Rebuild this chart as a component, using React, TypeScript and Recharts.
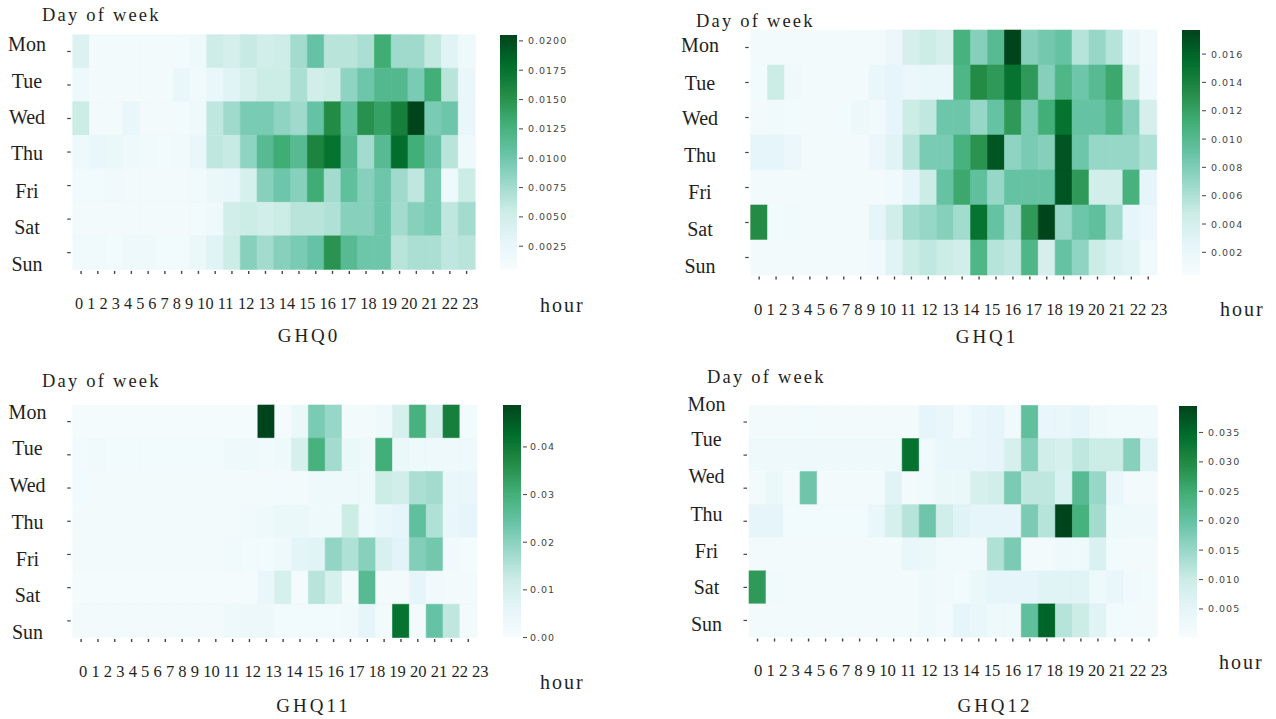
import {Bar, BarChart, Cell, XAxis, YAxis} from "recharts";

const days = ["Mon", "Tue", "Wed", "Thu", "Fri", "Sat", "Sun"];
const hours = ["0", "1", "2", "3", "4", "5", "6", "7", "8", "9", "10", "11",
    "12", "13", "14", "15", "16", "17", "18", "19", "20", "21", "22", "23"];

// rows Mon..Sun, columns hour 0..23
const ghq0 = [
    [0.0039, 0.0011, 0.0011, 0.0011, 0.0011, 0.0011, 0.0013, 0.0017, 0.0053, 0.0047, 0.0057, 0.0049, 0.0053, 0.0075, 0.0105, 0.0065, 0.0065, 0.0071, 0.0131, 0.0077, 0.0077, 0.0059, 0.0035, 0.0017],
    [0.0017, 0.0011, 0.0011, 0.0011, 0.0011, 0.0011, 0.0025, 0.0015, 0.0025, 0.0035, 0.0045, 0.0055, 0.0055, 0.0071, 0.0049, 0.0055, 0.0085, 0.0101, 0.0117, 0.0117, 0.0095, 0.0129, 0.0065, 0.0025],
    [0.0055, 0.0011, 0.0011, 0.0025, 0.0011, 0.0011, 0.0013, 0.0017, 0.0061, 0.0077, 0.0095, 0.0095, 0.0085, 0.0077, 0.0105, 0.0155, 0.0109, 0.0151, 0.0139, 0.0165, 0.0205, 0.0095, 0.0101, 0.0025],
    [0.0017, 0.0025, 0.0021, 0.0017, 0.0015, 0.0013, 0.0015, 0.0025, 0.0061, 0.0057, 0.0085, 0.0115, 0.0131, 0.0115, 0.0161, 0.0175, 0.0115, 0.0075, 0.0115, 0.0179, 0.0129, 0.0105, 0.0065, 0.0017],
    [0.0013, 0.0013, 0.0015, 0.0011, 0.0011, 0.0011, 0.0011, 0.0015, 0.0021, 0.0025, 0.0045, 0.0089, 0.0101, 0.0089, 0.0131, 0.0075, 0.0109, 0.0089, 0.0101, 0.0077, 0.0061, 0.0095, 0.0017, 0.0055],
    [0.0011, 0.0011, 0.0011, 0.0011, 0.0011, 0.0011, 0.0011, 0.0013, 0.0017, 0.0049, 0.0055, 0.0049, 0.0055, 0.0065, 0.0065, 0.0069, 0.0089, 0.0089, 0.0101, 0.0075, 0.0089, 0.0095, 0.0061, 0.0075],
    [0.0015, 0.0015, 0.0013, 0.0017, 0.0017, 0.0013, 0.0013, 0.0021, 0.0035, 0.0055, 0.0089, 0.0075, 0.0089, 0.0095, 0.0105, 0.0149, 0.0115, 0.0101, 0.0101, 0.0065, 0.0071, 0.0071, 0.0061, 0.0065],
];

const ghq1 = [
    [0.0009, 0.0009, 0.0009, 0.0009, 0.0009, 0.0009, 0.0009, 0.0009, 0.0018, 0.0039, 0.0047, 0.0039, 0.0108, 0.0077, 0.0099, 0.0177, 0.0077, 0.0085, 0.0091, 0.0056, 0.0070, 0.0056, 0.0021, 0.0013],
    [0.0011, 0.0047, 0.0014, 0.0009, 0.0009, 0.0009, 0.0009, 0.0021, 0.0025, 0.0018, 0.0021, 0.0021, 0.0104, 0.0134, 0.0125, 0.0151, 0.0125, 0.0077, 0.0104, 0.0087, 0.0099, 0.0116, 0.0047, 0.0014],
    [0.0009, 0.0013, 0.0011, 0.0009, 0.0009, 0.0011, 0.0016, 0.0013, 0.0025, 0.0047, 0.0052, 0.0087, 0.0087, 0.0070, 0.0091, 0.0125, 0.0082, 0.0111, 0.0151, 0.0091, 0.0091, 0.0104, 0.0077, 0.0039],
    [0.0025, 0.0025, 0.0018, 0.0009, 0.0009, 0.0009, 0.0009, 0.0018, 0.0030, 0.0056, 0.0082, 0.0082, 0.0108, 0.0129, 0.0168, 0.0073, 0.0082, 0.0077, 0.0168, 0.0087, 0.0070, 0.0070, 0.0070, 0.0059],
    [0.0009, 0.0009, 0.0009, 0.0009, 0.0009, 0.0009, 0.0009, 0.0009, 0.0013, 0.0025, 0.0047, 0.0091, 0.0116, 0.0094, 0.0070, 0.0091, 0.0091, 0.0091, 0.0168, 0.0125, 0.0042, 0.0042, 0.0108, 0.0025],
    [0.0134, 0.0011, 0.0013, 0.0009, 0.0009, 0.0009, 0.0009, 0.0025, 0.0042, 0.0065, 0.0070, 0.0077, 0.0065, 0.0151, 0.0091, 0.0065, 0.0125, 0.0177, 0.0070, 0.0087, 0.0094, 0.0065, 0.0025, 0.0018],
    [0.0009, 0.0009, 0.0009, 0.0009, 0.0009, 0.0009, 0.0009, 0.0013, 0.0030, 0.0047, 0.0052, 0.0047, 0.0042, 0.0104, 0.0056, 0.0052, 0.0104, 0.0039, 0.0091, 0.0073, 0.0047, 0.0035, 0.0030, 0.0013],
];

const ghq11 = [
    [0.0010, 0.0010, 0.0010, 0.0010, 0.0010, 0.0010, 0.0010, 0.0010, 0.0012, 0.0012, 0.0012, 0.0488, 0.0010, 0.0039, 0.0220, 0.0185, 0.0015, 0.0015, 0.0029, 0.0098, 0.0293, 0.0098, 0.0390, 0.0020],
    [0.0020, 0.0024, 0.0020, 0.0020, 0.0020, 0.0020, 0.0020, 0.0020, 0.0020, 0.0029, 0.0029, 0.0024, 0.0029, 0.0098, 0.0293, 0.0171, 0.0039, 0.0029, 0.0303, 0.0039, 0.0029, 0.0029, 0.0029, 0.0029],
    [0.0020, 0.0015, 0.0015, 0.0015, 0.0015, 0.0015, 0.0015, 0.0015, 0.0015, 0.0015, 0.0015, 0.0015, 0.0020, 0.0015, 0.0029, 0.0029, 0.0029, 0.0029, 0.0122, 0.0107, 0.0161, 0.0171, 0.0049, 0.0049],
    [0.0015, 0.0015, 0.0015, 0.0015, 0.0015, 0.0015, 0.0015, 0.0015, 0.0015, 0.0015, 0.0024, 0.0029, 0.0039, 0.0039, 0.0029, 0.0029, 0.0122, 0.0029, 0.0049, 0.0059, 0.0254, 0.0156, 0.0049, 0.0059],
    [0.0015, 0.0015, 0.0015, 0.0015, 0.0015, 0.0015, 0.0015, 0.0015, 0.0015, 0.0024, 0.0020, 0.0020, 0.0029, 0.0063, 0.0073, 0.0190, 0.0156, 0.0205, 0.0093, 0.0068, 0.0210, 0.0230, 0.0024, 0.0010],
    [0.0010, 0.0010, 0.0010, 0.0010, 0.0010, 0.0010, 0.0010, 0.0010, 0.0010, 0.0010, 0.0010, 0.0049, 0.0098, 0.0010, 0.0146, 0.0098, 0.0015, 0.0268, 0.0015, 0.0015, 0.0059, 0.0024, 0.0015, 0.0015],
    [0.0015, 0.0015, 0.0015, 0.0015, 0.0015, 0.0015, 0.0015, 0.0015, 0.0015, 0.0029, 0.0034, 0.0034, 0.0020, 0.0020, 0.0020, 0.0020, 0.0024, 0.0059, 0.0015, 0.0415, 0.0015, 0.0244, 0.0137, 0.0015],
];

const ghq12 = [
    [0.0013, 0.0013, 0.0013, 0.0017, 0.0013, 0.0013, 0.0013, 0.0013, 0.0013, 0.0013, 0.0049, 0.0041, 0.0021, 0.0041, 0.0049, 0.0021, 0.0206, 0.0041, 0.0041, 0.0049, 0.0025, 0.0021, 0.0021, 0.0021],
    [0.0025, 0.0025, 0.0025, 0.0025, 0.0025, 0.0025, 0.0025, 0.0025, 0.0025, 0.0337, 0.0021, 0.0041, 0.0041, 0.0041, 0.0049, 0.0080, 0.0167, 0.0088, 0.0080, 0.0112, 0.0100, 0.0100, 0.0167, 0.0061],
    [0.0013, 0.0033, 0.0013, 0.0191, 0.0013, 0.0013, 0.0013, 0.0013, 0.0061, 0.0013, 0.0021, 0.0033, 0.0033, 0.0080, 0.0088, 0.0179, 0.0112, 0.0112, 0.0072, 0.0218, 0.0151, 0.0041, 0.0013, 0.0013],
    [0.0049, 0.0049, 0.0017, 0.0017, 0.0017, 0.0017, 0.0017, 0.0041, 0.0080, 0.0120, 0.0191, 0.0088, 0.0061, 0.0049, 0.0049, 0.0049, 0.0179, 0.0120, 0.0395, 0.0238, 0.0139, 0.0025, 0.0025, 0.0025],
    [0.0013, 0.0013, 0.0013, 0.0013, 0.0013, 0.0013, 0.0013, 0.0013, 0.0013, 0.0041, 0.0033, 0.0021, 0.0021, 0.0021, 0.0128, 0.0179, 0.0013, 0.0013, 0.0025, 0.0025, 0.0072, 0.0017, 0.0013, 0.0013],
    [0.0277, 0.0021, 0.0013, 0.0013, 0.0013, 0.0013, 0.0013, 0.0013, 0.0013, 0.0013, 0.0025, 0.0021, 0.0017, 0.0033, 0.0049, 0.0049, 0.0049, 0.0061, 0.0061, 0.0061, 0.0025, 0.0041, 0.0021, 0.0017],
    [0.0013, 0.0013, 0.0013, 0.0013, 0.0013, 0.0013, 0.0013, 0.0013, 0.0013, 0.0013, 0.0025, 0.0017, 0.0049, 0.0041, 0.0025, 0.0025, 0.0206, 0.0356, 0.0120, 0.0100, 0.0061, 0.0017, 0.0017, 0.0013],
];

const ghq0Ticks = [0.0025, 0.005, 0.0075, 0.01, 0.0125, 0.015, 0.0175, 0.02];
const ghq1Ticks = [0.002, 0.004, 0.006, 0.008, 0.01, 0.012, 0.014, 0.016];
const ghq11Ticks = [0, 0.01, 0.02, 0.03, 0.04];
const ghq12Ticks = [0.005, 0.01, 0.015, 0.02, 0.025, 0.03, 0.035];

// matplotlib BuGn, light to dark
const BUGN = ["#f7fcfd", "#e5f5f9", "#ccece6", "#99d8c9", "#66c2a4", "#41ae76", "#238b45", "#006d2c", "#00441b"];

const hexRgb = (h: string) => [1, 3, 5].map(i => parseInt(h.slice(i, i + 2), 16));

const bugn = (t: number) => {
    const s = Math.max(0, Math.min(1, t)) * 8;
    const i = Math.min(7, Math.floor(s));
    const f = s - i;
    const a = hexRgb(BUGN[i]);
    const b = hexRgb(BUGN[i + 1]);
    const c = a.map((v, k) => Math.round(v + (b[k] - v) * f));
    return `rgb(${c[0]},${c[1]},${c[2]})`;
};

const SERIF = '"Liberation Serif", "DejaVu Serif", serif';
const SANS = '"DejaVu Sans", sans-serif';
const INK = "#1f1f1f";

type Panel = {
    name: string;
    values: number[][];
    domain: [number, number];
    ticks: number[];
    digits: number;
    box: { left: number; top: number; width: number; height: number };
    plot: { x: number; y: number; w: number; h: number };
    dayX: number;
    dayShift: number[];
    hourStart: number;
    hourSize: number;
    hourY: number;
    bar: { x: number; w: number; labelX: number };
    dow: { x: number; y: number };
    unit: { x: number; y: number };
    title: { x: number; y: number };
};

const panels: Panel[] = [
    {
        name: "GHQ0", values: ghq0, domain: [0.0005, 0.0205], ticks: ghq0Ticks, digits: 4,
        box: {left: 0, top: 0, width: 500, height: 322},
        plot: {x: 72.7, y: 34.7, w: 402.3, h: 234.7},
        dayX: 27, dayShift: [-7.7, -4, -2, 1.3, 5.3, 8, 11],
        hourStart: 75, hourSize: 16.3, hourY: 303.3,
        bar: {x: 500, w: 17, labelX: 528},
        dow: {x: 42, y: 15}, unit: {x: 540, y: 305}, title: {x: 309, y: 335.5},
    },
    {
        name: "GHQ1", values: ghq1, domain: [0.0004, 0.0177], ticks: ghq1Ticks, digits: 3,
        box: {left: 640, top: 0, width: 540, height: 325},
        plot: {x: 750.7, y: 30, w: 406, h: 245},
        dayX: 700, dayShift: [-2.5, 0, 0.3, 2.5, 4.3, 6.3, 8.5],
        hourStart: 754, hourSize: 16.7, hourY: 309,
        bar: {x: 1182, w: 18, labelX: 1211},
        dow: {x: 696, y: 20.7}, unit: {x: 1220, y: 309}, title: {x: 987, y: 336},
    },
    {
        name: "GHQ11", values: ghq11, domain: [0, 0.0488], ticks: ghq11Ticks, digits: 2,
        box: {left: 0, top: 390, width: 500, height: 300},
        plot: {x: 72.7, y: 405, w: 404, h: 232.5},
        dayX: 27.5, dayShift: [-9.3, -6.7, -2.7, 0.6, 4.7, 7, 11],
        hourStart: 79, hourSize: 16.55, hourY: 671.7,
        bar: {x: 503, w: 18, labelX: 530},
        dow: {x: 42, y: 380.7}, unit: {x: 540, y: 681.7}, title: {x: 313.5, y: 705},
    },
    {
        name: "GHQ12", values: ghq12, domain: [0.00015, 0.0395], ticks: ghq12Ticks, digits: 3,
        box: {left: 640, top: 385, width: 540, height: 300},
        plot: {x: 749, y: 405.5, w: 408.5, h: 231.5},
        dayX: 706.5, dayShift: [-17.7, -15.7, -12, -7.3, -3, 0, 3.3],
        hourStart: 754, hourSize: 16.7, hourY: 670,
        bar: {x: 1179, w: 18, labelX: 1208},
        dow: {x: 707, y: 377.3}, unit: {x: 1219, y: 661.7}, title: {x: 995, y: 705},
    },
];

const hourOffset = (index: number, size: number) => {
    let x = 0;
    for (let j = 0; j < index; j++) x += (hours[j].length * 0.5 + 0.25) * size;
    return x;
};

const hourRows = hours.map(h => {
    const row: Record<string, string | number> = {hour: h};
    days.forEach(d => { row[d] = 1; });
    return row;
});

const HourTick = ({x, payload, p}: any) => {
    const i = hours.indexOf(String(payload.value));
    const bottom = p.plot.y + p.plot.h - p.box.top;
    return (
        <g>
            <line x1={x} x2={x} y1={bottom + 1.5} y2={bottom + 4.5} stroke="#444" strokeWidth={1.4}/>
            <text x={p.hourStart - p.box.left + hourOffset(i, p.hourSize)} y={p.hourY - p.box.top}
                  dominantBaseline="central" fontFamily={SERIF} fontSize={p.hourSize} fill={INK}>
                {hours[i]}
            </text>
        </g>
    );
};

const DayTick = ({y, payload, p}: any) => {
    const j = Math.round(payload.value - 0.5);
    const left = p.plot.x - p.box.left;
    return (
        <g>
            <line x1={left - 5.5} x2={left - 2} y1={y} y2={y} stroke="#444" strokeWidth={1.2}/>
            <text x={p.dayX - p.box.left} y={y + p.dayShift[j]} textAnchor="middle" dominantBaseline="central"
                  fontFamily={SERIF} fontSize={20} fill={INK}>
                {days[j]}
            </text>
        </g>
    );
};

const BarTick = ({y, payload, p}: any) => (
    <g>
        <line x1={p.bar.w + 2} x2={p.bar.w + 6} y1={y} y2={y} stroke="#555" strokeWidth={1.1}/>
        <text x={p.bar.labelX - p.bar.x} y={y} dominantBaseline="central" fontFamily={SANS} fontSize={9.5}
              letterSpacing={1} fill="#444">
            {Number(payload.value).toFixed(p.digits)}
        </text>
    </g>
);

const Heatmap = ({p}: { p: Panel }) => {
    const [lo, hi] = p.domain;
    const color = (v: number) => bugn((v - lo) / (hi - lo));
    const top = p.plot.y - p.box.top;
    const right = p.box.left + p.box.width - p.plot.x - p.plot.w;
    const xAxisHeight = p.box.top + p.box.height - p.plot.y - p.plot.h;
    return (
        <div style={{position: "absolute", left: p.box.left, top: p.box.top}}>
            <BarChart width={p.box.width} height={p.box.height} data={hourRows}
                      margin={{top, right, bottom: 0, left: 0}} barCategoryGap={0} barGap={0}>
                <XAxis dataKey="hour" interval={0} height={xAxisHeight} axisLine={false} tickLine={false}
                       tick={(props: any) => <HourTick {...props} p={p}/>}/>
                <YAxis type="number" domain={[0, days.length]} reversed interval={0}
                       ticks={days.map((_, j) => j + 0.5)} width={p.plot.x - p.box.left}
                       axisLine={false} tickLine={false}
                       tick={(props: any) => <DayTick {...props} p={p}/>}/>
                {days.map((d, j) => (
                    <Bar key={d} dataKey={d} stackId="cells" isAnimationActive={false}>
                        {hours.map((h, i) => {
                            const c = color(p.values[j][i]);
                            return <Cell key={h} fill={c} stroke={c} strokeWidth={0.6}/>;
                        })}
                    </Bar>
                ))}
            </BarChart>
        </div>
    );
};

const ColorBar = ({p}: { p: Panel }) => {
    const [lo, hi] = p.domain;
    return (
        <div style={{position: "absolute", left: p.bar.x, top: p.plot.y - 10}}>
            <BarChart width={p.bar.w + 70} height={p.plot.h + 20} data={[{k: p.name, base: lo, span: hi - lo}]}
                      margin={{top: 10, right: 0, bottom: 10, left: 0}} barCategoryGap={0}>
                <XAxis dataKey="k" hide/>
                <YAxis orientation="right" type="number" domain={p.domain} allowDataOverflow ticks={p.ticks}
                       interval={0} width={70} axisLine={false} tickLine={false}
                       tick={(props: any) => <BarTick {...props} p={p}/>}/>
                <Bar dataKey="base" stackId="cb" fill="none" isAnimationActive={false}/>
                <Bar dataKey="span" stackId="cb" fill="url(#bugn-bar)" isAnimationActive={false}/>
            </BarChart>
        </div>
    );
};

const App = (): React.JSX.Element => {
    return (
        <div style={{position: "absolute", left: 0, top: 0, width: 1276, height: 719, background: "#fff"}}>
            <svg width={0} height={0} style={{position: "absolute"}}>
                <defs>
                    <linearGradient id="bugn-bar" x1="0" y1="1" x2="0" y2="0">
                        {BUGN.map((c, k) => (
                            <stop key={c} offset={`${k * 12.5}%`} stopColor={c}/>
                        ))}
                    </linearGradient>
                </defs>
            </svg>
            {panels.map(p => <Heatmap key={p.name} p={p}/>)}
            {panels.map(p => <ColorBar key={p.name} p={p}/>)}
            <svg width={1276} height={719} style={{position: "absolute", left: 0, top: 0, pointerEvents: "none"}}>
                {panels.map(p => (
                    <g key={p.name} fontFamily={SERIF} fill={INK}>
                        <text x={p.dow.x} y={p.dow.y} dominantBaseline="central" fontSize={18.5}
                              letterSpacing={2.2}>Day of week</text>
                        <text x={p.unit.x} y={p.unit.y} dominantBaseline="central" fontSize={20}
                              letterSpacing={2}>hour</text>
                        <text x={p.title.x} y={p.title.y} textAnchor="middle" dominantBaseline="central"
                              fontSize={19} letterSpacing={3}>{p.name}</text>
                    </g>
                ))}
            </svg>
        </div>
    );
};

export default App;
